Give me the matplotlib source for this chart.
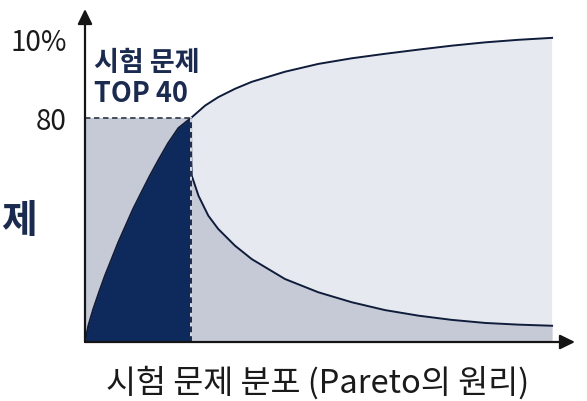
import matplotlib
matplotlib.use("Agg")
import matplotlib.pyplot as plt
import numpy as np

plt.rcParams['font.family'] = ['Noto Sans CJK KR', 'DejaVu Sans']

# ---- data ----
upper_x = [0, 0.71, 1.78, 3.0, 4.28, 5.7, 7.13, 8.7, 10.3, 12.1, 13.9,
           15.8, 17.8, 20.0, 22.7,
           25.7, 28.5, 32.1, 35.7, 42.8, 49.96, 57.1, 64.2, 71.4, 78.5,
           85.7, 92.8, 100]
upper_y = [0, 5.8, 11.8, 17.75, 23.7, 29.6, 35.6, 41.5, 47.5, 53.5, 59.4,
           65.2, 71.0, 76.4, 80,
           84.4, 87.4, 90.4, 92.9, 96.5, 99.3, 101.3, 102.9, 104.4, 105.8,
           107.0, 107.9, 108.6]
lower_x = [22.7, 22.72, 22.75, 22.85, 24.3, 26.4, 28.5, 32.1, 35.7, 42.8,
           49.96, 57.1, 64.2, 71.4, 78.5, 85.7, 92.8, 100]
lower_y = [80, 72, 65.4, 59.4, 52.2, 45.1, 40.4, 34.4, 29.6, 22.5,
           17.75, 14.2, 11.4, 9.4, 7.9, 6.8, 6.2, 5.8]
split_x = 22.7
split_y = 80
ytick_vals = [80, 108.5]
ytick_labels = ['80', '10%']
x_label = '시험 문제 분포 (Pareto의 원리)'
note_text = '시험 문제\nTOP 40'
side_text = '제'

# ---- colours ----
navy = '#0e2a5d'
mid = '#c6cad6'
light = '#e6e9ef'
line_c = '#0f1c3a'
text_navy = '#1b2a4f'

fig = plt.figure(figsize=(5.87, 4.02), dpi=100)
ax = fig.add_axes([85/587, 59/402, 490/587, 333/402])
ax.set_xlim(0, 104.9)
ax.set_ylim(0, 118.9)

ux = np.array(upper_x); uy = np.array(upper_y)
lx = np.array(lower_x); ly = np.array(lower_y)
left = ux <= split_x
right = ux >= split_x

# left block
ax.fill_between([0, split_x], 0, split_y, color=mid, lw=0, zorder=1)
ax.fill_between(ux[left], 0, uy[left], color=navy, lw=0, zorder=2)
# right block
poly_x = np.concatenate([ux[right], lx[::-1]])
poly_y = np.concatenate([uy[right], ly[::-1]])
ax.fill(poly_x, poly_y, color=light, lw=0, zorder=1)
ax.fill_between(lx, 0, ly, color=mid, lw=0, zorder=1)

# curves
ax.plot(ux, uy, color=line_c, lw=1.4, zorder=4, solid_joinstyle='round')
ax.plot(lx, ly, color=line_c, lw=1.4, zorder=4, solid_joinstyle='round')

# dashed guides
ax.plot([0, split_x], [split_y, split_y], color='#3a4150', lw=1.3,
        ls=(0, (3, 2)), zorder=5)
ax.plot([split_x, split_x], [0, split_y], color='#d5dbe6', lw=1.4, zorder=5)
ax.plot([split_x, split_x], [0, split_y], color='#1e2c4c', lw=1.4,
        ls=(0, (3, 2)), zorder=6)

# axes with arrows
for s in ax.spines.values():
    s.set_visible(False)
arrow = dict(arrowstyle='-|>,head_length=0.45,head_width=0.22', color='#151515',
             lw=1.6, shrinkA=0, shrinkB=0, mutation_scale=20)
ax.annotate('', xy=(0, 1), xytext=(0, 0), xycoords='axes fraction',
            arrowprops=arrow, zorder=7, annotation_clip=False)
ax.annotate('', xy=(1, 0), xytext=(0, 0), xycoords='axes fraction',
            arrowprops=arrow, zorder=7, annotation_clip=False)

ax.set_xticks([])
ax.set_yticks(ytick_vals)
ax.set_yticklabels(ytick_labels, fontsize=20, color='#1a1a1a')
ax.tick_params(axis='y', length=0, pad=13)

ax.set_xlabel(x_label, fontsize=23.5, color='#1a1a1a')
ax.xaxis.label.set_va('center')
ax.xaxis.set_label_coords((317.5 - 85) / 490, (343 - 383) / 333)

ax.text(2.0, 94.5, note_text, fontsize=19.5, fontweight='bold', color=text_navy,
        ha='left', va='center', linespacing=1.15, zorder=8)

fig.text(1/587, 1 - 222/402, side_text, fontsize=28, fontweight='bold',
         color=text_navy, ha='left', va='center')

fig.savefig('out.png', dpi=100)
